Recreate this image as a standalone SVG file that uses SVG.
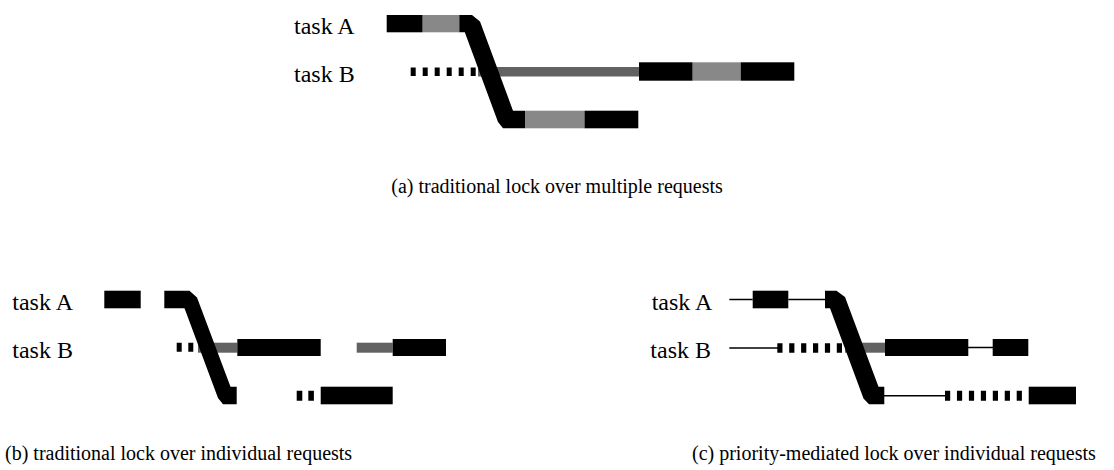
<svg xmlns="http://www.w3.org/2000/svg" width="1114" height="470" viewBox="0 0 1114 470">
  <style>
    .lbl { font-family: "Liberation Serif", "Times New Roman", serif; font-size: 24px; fill: #000; }
    .cap { font-family: "Liberation Serif", "Times New Roman", serif; font-size: 20px; fill: #000; }
    .run { fill: #000; }
    .crit { fill: #888; }
    .wait { fill: #626262; }
    .spin { stroke: #000; fill: none; }
    .thin { stroke: #000; stroke-width: 1.5; fill: none; }
  </style>
  <rect width="1114" height="470" fill="#fff"/>

  <!-- (a) traditional lock over multiple requests -->
  <g id="panel-a">
    <g id="a-labels">
      <text class="lbl" x="294" y="34.3">task A</text>
      <text class="lbl" x="294" y="81.7">task B</text>
    </g>
    <g id="a-taskB">
      <line class="spin" x1="410.7" y1="71.8" x2="476" y2="71.8" stroke-width="8.6" stroke-dasharray="5 7"/>
      <rect class="wait" x="478" y="67" width="161" height="9.5"/>
      <rect class="run" x="639" y="62.3" width="53.7" height="18.4"/>
      <rect class="crit" x="692.7" y="62.3" width="48" height="18.4"/>
      <rect class="run" x="740.7" y="62.3" width="53.6" height="18.4"/>
    </g>
    <g id="a-taskA">
      <rect class="run" x="386.7" y="15" width="36" height="17.3"/>
      <rect class="crit" x="422.7" y="15" width="36.6" height="17.3"/>
      <polygon class="run" points="459.3,15 472,15 480,21.5 513,110.7 525,110.7 525,128.3 503,128.3 498,122 464.8,32.3 459.3,32.3"/>
      <rect class="crit" x="525" y="110.7" width="59.5" height="17.6"/>
      <rect class="run" x="584.5" y="110.7" width="53.8" height="17.6"/>
    </g>
    <text class="cap" x="557" y="193" text-anchor="middle">(a) traditional lock over multiple requests</text>
  </g>

  <!-- (b) traditional lock over individual requests -->
  <g id="panel-b">
    <g id="b-labels">
      <text class="lbl" x="12.3" y="310">task A</text>
      <text class="lbl" x="12.3" y="357.7">task B</text>
    </g>
    <g id="b-taskB">
      <line class="spin" x1="176.7" y1="347.2" x2="193.5" y2="347.2" stroke-width="9" stroke-dasharray="5 6.6"/>
      <rect class="wait" x="198" y="342.7" width="39.3" height="10"/>
      <rect class="run" x="237.3" y="339" width="83.4" height="17"/>
      <rect class="wait" x="356.7" y="342.7" width="36" height="10"/>
      <rect class="run" x="392.7" y="339" width="53.3" height="17"/>
    </g>
    <g id="b-taskA">
      <rect class="run" x="104.3" y="290.7" width="36.4" height="17.6"/>
      <polygon class="run" points="164.3,290.7 189.5,290.7 197,297.5 230.5,386.7 236.7,386.7 236.7,404.3 223,404.3 218,398 184.5,308.3 164.3,308.3"/>
      <line class="spin" x1="296.7" y1="395.7" x2="314" y2="395.7" stroke-width="10" stroke-dasharray="5.6 6"/>
      <rect class="run" x="320.7" y="386.7" width="72" height="17.6"/>
    </g>
    <text class="cap" x="5" y="460">(b) traditional lock over individual requests</text>
  </g>

  <!-- (c) priority-mediated lock over individual requests -->
  <g id="panel-c">
    <g id="c-labels">
      <text class="lbl" x="712.3" y="310" text-anchor="end">task A</text>
      <text class="lbl" x="711" y="357.7" text-anchor="end">task B</text>
    </g>
    <g id="connectors">
      <line class="thin" x1="729.3" y1="299.5" x2="752.7" y2="299.5"/>
      <line class="thin" x1="788.3" y1="299.5" x2="826" y2="299.5"/>
      <line class="thin" x1="729.3" y1="348" x2="778" y2="348"/>
      <line class="thin" x1="968" y1="347.5" x2="993" y2="347.5"/>
      <line class="thin" x1="884" y1="395.7" x2="945.5" y2="395.7"/>
    </g>
    <g id="c-taskB">
      <line class="spin" x1="777.3" y1="348" x2="842.5" y2="348" stroke-width="9.4" stroke-dasharray="5.2 6.7"/>
      <rect class="wait" x="845" y="342.7" width="40" height="10"/>
      <rect class="run" x="885" y="339" width="83.3" height="17"/>
      <rect class="run" x="992.7" y="339" width="35.6" height="17"/>
    </g>
    <g id="c-taskA">
      <rect class="run" x="752.7" y="290.7" width="35.6" height="17.6"/>
      <polygon class="run" points="825,290.7 836.5,290.7 845,297 878.5,386.7 884.3,386.7 884.3,404.3 869,404.3 863.5,398.5 830,308.3 825,308.3"/>
      <line class="spin" x1="945" y1="395.7" x2="1022.5" y2="395.7" stroke-width="10" stroke-dasharray="5.2 6.75"/>
      <rect class="run" x="1028.7" y="386.7" width="47.3" height="17.6"/>
    </g>
    <text class="cap" x="692" y="460">(c) priority-mediated lock over individual requests</text>
  </g>
</svg>
